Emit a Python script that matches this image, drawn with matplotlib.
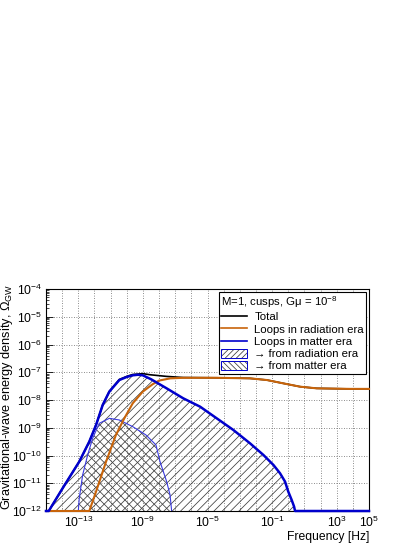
import numpy as np
import matplotlib
matplotlib.use('Agg')
import matplotlib.pyplot as plt
from matplotlib.lines import Line2D
from matplotlib.patches import Patch
from matplotlib.ticker import FixedLocator, FuncFormatter, NullFormatter

plt.rcParams['font.family'] = ['Liberation Sans', 'DejaVu Sans']
plt.rcParams['mathtext.fontset'] = 'custom'
plt.rcParams['mathtext.rm'] = 'Liberation Sans'
plt.rcParams['mathtext.it'] = 'Liberation Sans:italic'
plt.rcParams['mathtext.default'] = 'regular'
plt.rcParams['hatch.linewidth'] = 0.55

# values, as log10(f/Hz) and log10(Omega_GW)
matter_logf = [-15.0, -14.83, -13.97, -12.94, -12.32, -11.9, -11.49, -11.08, -10.46, -10.0,
               -9.63, -9.3, -9.01, -8.5, -7.53, -6.50, -5.46, -4.43, -3.40, -2.37, -1.54,
               -0.92, -0.51, -0.20, 0.0, 0.21, 0.36, 0.42, 5.0]
matter_logom = [-12.0, -12.0, -11.18, -10.22, -9.50, -8.90, -8.18, -7.70, -7.28, -7.17,
                -7.11, -7.09, -7.11, -7.25, -7.58, -7.94, -8.24, -8.66, -9.08, -9.56, -9.98,
                -10.34, -10.64, -10.94, -11.30, -11.60, -11.84, -12.0, -12.0]

rad_logf = [-15.0, -12.32, -11.9, -11.28, -10.67, -10.15, -9.63, -9.01, -8.39, -8.0,
            -7.3, -6.50, -4.43, -2.37, -1.33, -0.31, 0.73, 1.76, 3.82, 5.0]
rad_logom = [-12.0, -12.0, -11.30, -10.22, -9.26, -8.66, -8.12, -7.70, -7.43, -7.30,
             -7.22, -7.20, -7.20, -7.22, -7.28, -7.40, -7.52, -7.58, -7.60, -7.60]

total_logf = [-15.0, -14.83, -13.97, -12.94, -12.32, -11.9, -11.49, -11.08, -10.46, -10.0,
              -9.63, -9.0, -8.56, -7.53, -6.50, -4.43, -2.37, -1.33, -0.31, 0.73, 1.76, 3.82, 5.0]
total_logom = [-12.0, -12.0, -11.18, -10.22, -9.50, -8.90, -8.18, -7.69, -7.26, -7.15,
               -7.08, -7.05, -7.09, -7.15, -7.19, -7.20, -7.22, -7.28, -7.40, -7.52, -7.58, -7.60, -7.60]

# part of the matter-era loops that was formed in the matter era
mfrom_logf = [-13.0, -12.94, -12.73, -12.42, -12.11, -11.70, -11.08, -10.46, -9.63, -8.81,
              -8.19, -7.94, -7.53, -7.32, -7.22]
mfrom_logom = [-12.0, -11.54, -10.70, -9.98, -9.38, -8.84, -8.66, -8.72, -8.96, -9.26,
               -9.62, -10.22, -10.94, -11.42, -12.0]

xlabel_exps = [-13, -9, -5, -1, 3, 5]
ylabel_exps = [-12, -11, -10, -9, -8, -7, -6, -5, -4]

blue = '#0000cc'
orange = '#c8640a'
hatch_col = '#3c3c3c'

fig = plt.figure(figsize=(4.2, 5.43), dpi=100)
ax = fig.add_axes([46 / 420, 32 / 543, 323 / 420, 222 / 543])
ax.set_xscale('log')
ax.set_yscale('log')
ax.set_xlim(1e-15, 1e5)
ax.set_ylim(1e-12, 1e-4)

mf = 10.0 ** np.array(matter_logf)
mo = 10.0 ** np.array(matter_logom)
rf = 10.0 ** np.array(rad_logf)
ro = 10.0 ** np.array(rad_logom)
tf = 10.0 ** np.array(total_logf)
to = 10.0 ** np.array(total_logom)
sf = 10.0 ** np.array(mfrom_logf)
so = 10.0 ** np.array(mfrom_logom)

# hatched components
ax.fill_between(mf, mo, 1e-12, facecolor='none', edgecolor=hatch_col, hatch='////',
                linewidth=0, zorder=1)
ax.fill_between(sf, so, 1e-12, facecolor='none', edgecolor=hatch_col, hatch='\\\\\\\\',
                linewidth=0, zorder=1)
ax.plot(sf, so, color='#3a3ae0', lw=0.8, zorder=2)

ax.plot(tf, to, color='black', lw=1.2, zorder=3, clip_on=False)
ax.plot(rf, ro, color=orange, lw=1.5, zorder=4, clip_on=False)
ax.plot(mf, mo, color=blue, lw=1.8, zorder=5, clip_on=False)

# grid and ticks, ROOT-like
ax.xaxis.set_major_locator(FixedLocator([10.0 ** e for e in range(-15, 6)]))
ax.xaxis.set_minor_locator(FixedLocator([]))
ax.xaxis.set_major_formatter(FuncFormatter(
    lambda v, p: r'$10^{%d}$' % round(np.log10(v)) if round(np.log10(v)) in xlabel_exps else ''))
ax.yaxis.set_major_locator(FixedLocator([10.0 ** e for e in ylabel_exps]))
ax.yaxis.set_minor_locator(FixedLocator([k * 10.0 ** e for e in ylabel_exps[:-1] for k in range(2, 10)]))
ax.yaxis.set_major_formatter(FuncFormatter(lambda v, p: r'$10^{%d}$' % round(np.log10(v))))
ax.yaxis.set_minor_formatter(NullFormatter())
ax.tick_params(axis='both', which='both', direction='in', labelsize=8.7, top=False, right=False)
ax.tick_params(axis='y', which='major', length=5, width=0.6, pad=3)
ax.tick_params(axis='y', which='minor', length=2.5, width=0.5)
ax.tick_params(axis='x', which='major', length=2, width=0.4, pad=3, colors='#888888', labelcolor='black')
ax.grid(True, which='major', color='#666666', linestyle=(0, (1, 2)), linewidth=0.6, zorder=0)
ax.set_axisbelow(True)
for s in ax.spines.values():
    s.set_linewidth(0.8)

handles = [
    Line2D([], [], color='black', lw=1.2),
    Line2D([], [], color=orange, lw=1.2),
    Line2D([], [], color=blue, lw=1.2),
    (Patch(facecolor='white', edgecolor=hatch_col, hatch='//////', lw=0),
     Patch(facecolor='none', edgecolor=blue, lw=0.7)),
    (Patch(facecolor='white', edgecolor=hatch_col, hatch='\\\\\\\\\\\\', lw=0),
     Patch(facecolor='none', edgecolor=blue, lw=0.7)),
]
labels = ['Total', 'Loops in radiation era', 'Loops in matter era',
          '\u2192 from radiation era', '\u2192 from matter era']
leg = ax.legend(handles, labels, title=r'M=1, cusps, G$\mu$ = $10^{-8}$', loc='upper right',
                bbox_to_anchor=(0.991, 0.987), fontsize=8.2, title_fontsize=8.2,
                frameon=True, fancybox=False, edgecolor='black', framealpha=1,
                borderpad=0.2, labelspacing=0.16, handlelength=2.3, handleheight=0.85,
                handletextpad=0.6, borderaxespad=0)
leg._legend_box.align = 'left'
leg.get_frame().set_linewidth(0.8)
leg.set_zorder(10)

fig.text(7 / 420, 1 - 397 / 543, r'Gravitational-wave energy density, $\Omega_{GW}$',
         rotation=90, ha='center', va='center', fontsize=9.2)
fig.text(369 / 420, 1 - 537 / 543, 'Frequency [Hz]', ha='right', va='center', fontsize=8.7)

fig.savefig('out.png', dpi=100)
